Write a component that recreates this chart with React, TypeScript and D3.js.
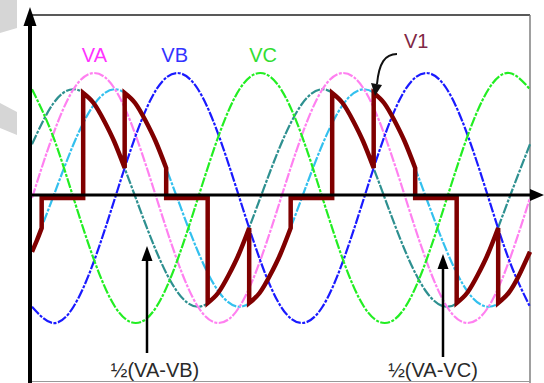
import * as d3 from "d3";

// sample angles (degrees) for the phase waveforms
const ANGLES = [0, 30, 60, 90, 120, 150, 180, 210, 240, 270, 300, 330, 360, 390, 420, 450, 480, 510, 540, 570, 600, 630, 660, 690, 720];

// per-unit values
const VA = [0, 0.5, 0.87, 1, 0.87, 0.5, 0, -0.5, -0.87, -1, -0.87, -0.5, 0, 0.5, 0.87, 1, 0.87, 0.5, 0, -0.5, -0.87, -1, -0.87, -0.5, 0];
const VB = [-0.87, -1, -0.87, -0.5, 0, 0.5, 0.87, 1, 0.87, 0.5, 0, -0.5, -0.87, -1, -0.87, -0.5, 0, 0.5, 0.87, 1, 0.87, 0.5, 0, -0.5, -0.87];
const VC = [0.87, 0.5, 0, -0.5, -0.87, -1, -0.87, -0.5, 0, 0.5, 0.87, 1, 0.87, 0.5, 0, -0.5, -0.87, -1, -0.87, -0.5, 0, 0.5, 0.87, 1, 0.87];
const HALF_AB = [0.43, 0.75, 0.87, 0.75, 0.43, 0, -0.43, -0.75, -0.87, -0.75, -0.43, 0, 0.43, 0.75, 0.87, 0.75, 0.43, 0, -0.43, -0.75, -0.87, -0.75, -0.43, 0, 0.43];
const HALF_AC = [-0.43, 0, 0.43, 0.75, 0.87, 0.75, 0.43, 0, -0.43, -0.75, -0.87, -0.75, -0.43, 0, 0.43, 0.75, 0.87, 0.75, 0.43, 0, -0.43, -0.75, -0.87, -0.75, -0.43];

// V1 output, piece by piece: [angle, value]
const V1_PIECES: [number, number][][] = [
  [[0, -0.43], [7, -0.34], [14, -0.24]],
  [[14, 0], [74, 0]],
  [[74, 0.84], [89, 0.76], [104, 0.62], [119, 0.45], [134, 0.24]],
  [[134, 0.84], [149, 0.76], [164, 0.62], [179, 0.45], [194, 0.24]],
  [[194, 0], [254, 0]],
  [[254, -0.84], [269, -0.76], [284, -0.62], [299, -0.45], [314, -0.24]],
  [[314, -0.84], [329, -0.76], [344, -0.62], [359, -0.45], [374, -0.24]],
  [[374, 0], [434, 0]],
  [[434, 0.84], [449, 0.76], [464, 0.62], [479, 0.45], [494, 0.24]],
  [[494, 0.84], [509, 0.76], [524, 0.62], [539, 0.45], [554, 0.24]],
  [[554, 0], [614, 0]],
  [[614, -0.84], [629, -0.76], [644, -0.62], [659, -0.45], [674, -0.24]],
  [[674, -0.84], [689, -0.76], [704, -0.62], [720, -0.43]],
];

const SERIES = [
  { name: "½(VA-VB)", values: HALF_AB, color: "#2e9090" },
  { name: "½(VA-VC)", values: HALF_AC, color: "#33c0ee" },
  { name: "VA", values: VA, color: "#ff80f0" },
  { name: "VB", values: VB, color: "#1a1aff" },
  { name: "VC", values: VC, color: "#22ee22" },
];

const PHASE_LABELS = [
  { text: "VA", angle: 72, color: "#ff33ff" },
  { text: "VB", angle: 187, color: "#3333ff" },
  { text: "VC", angle: 314, color: "#33dd33" },
];

const W = 544;
const H = 383;

export default function App() {
  const x = d3.scaleLinear().domain([0, 720]).range([32, 530]);
  const y = d3.scaleLinear().domain([-1, 1]).range([323, 73]);

  const wave = d3
    .line<number>()
    .x((_, i) => x(ANGLES[i]))
    .y((d) => y(d))
    .curve(d3.curveNatural);

  // glue the V1 pieces into one path so the jumps are vertical strokes
  const piece = d3
    .line<[number, number]>()
    .x((d) => x(d[0]))
    .y((d) => y(d[1]))
    .curve(d3.curveNatural);
  const v1Path = V1_PIECES.map((p, i) => {
    const s = piece(p) || "";
    return i === 0 ? s : "L" + s.slice(1);
  }).join("");

  const axisY = 195;
  const font = "'Liberation Sans', Arial, sans-serif";

  return (
    <svg width={W} height={H} style={{ position: "absolute", left: 0, top: 0, background: "#fff" }}>
      {/* faint watermark shapes at the left edge */}
      <polygon points="0,0 17,0 17,28 0,33" fill="#d6d6d6" />
      <polygon points="0,103 17,112 17,135 0,128" fill="#d6d6d6" />

      {/* frame */}
      <line x1={30} x2={530} y1={15} y2={15} stroke="#222" strokeWidth={1.6} />
      <line x1={530} x2={530} y1={15} y2={383} stroke="#777" strokeWidth={1.4} />
      <line x1={30} x2={530} y1={381.5} y2={381.5} stroke="#999" strokeWidth={1} />

      {SERIES.map((s) => (
        <path
          key={s.name}
          d={wave(s.values) || ""}
          fill="none"
          stroke={s.color}
          strokeWidth={2.2}
          strokeDasharray="10,1.5,3,1.5"
        />
      ))}

      <path d={v1Path} fill="none" stroke="#800000" strokeWidth={4.5} strokeLinejoin="miter" />

      {/* axes */}
      <line x1={30} x2={532} y1={axisY} y2={axisY} stroke="#000" strokeWidth={3} />
      <polygon points={`544,${axisY} 530,${axisY - 6} 530,${axisY + 6}`} fill="#000" />
      <line x1={30} x2={30} y1={383} y2={22} stroke="#000" strokeWidth={4} />
      <polygon points="30,7 23.5,26 36.5,26" fill="#000" />

      {PHASE_LABELS.map((l) => (
        <text key={l.text} x={x(l.angle)} y={62} fill={l.color} fontSize={20} fontFamily={font}>
          {l.text}
        </text>
      ))}

      <text x={404} y={48} fill="#7f2845" fontSize={20} fontFamily={font}>
        V1
      </text>
      <path d="M397,54 C385,54 379,63 377,84" fill="none" stroke="#111" strokeWidth={2} />
      <polygon points="375,96 371,83 382,85" fill="#111" />

      {/* bottom annotations */}
      <line x1={147} x2={147} y1={353} y2={258} stroke="#000" strokeWidth={2.5} />
      <polygon points="147,246 141.5,261 152.5,261" fill="#000" />
      <line x1={443} x2={443} y1={357} y2={266} stroke="#000" strokeWidth={2.5} />
      <polygon points="443,254 437.5,269 448.5,269" fill="#000" />

      <text x={155} y={377} textAnchor="middle" fill="#2a2a2a" fontSize={20} fontFamily={font}>
        ½(VA-VB)
      </text>
      <text x={433} y={377} textAnchor="middle" fill="#2a2a2a" fontSize={20} fontFamily={font}>
        ½(VA-VC)
      </text>
    </svg>
  );
}
